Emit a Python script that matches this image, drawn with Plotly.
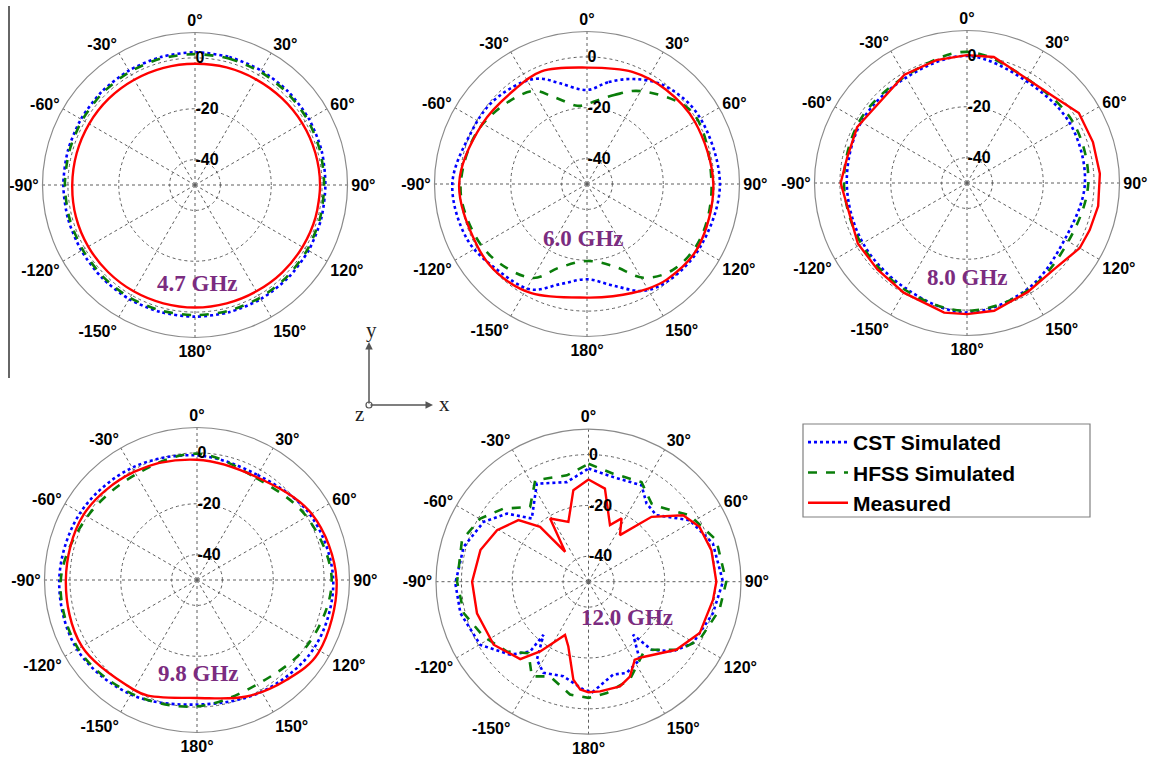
import plotly.graph_objects as go

# ---------------- data (dB values) ----------------
freq_labels = ["4.7 GHz", "6.0 GHz", "8.0 GHz", "9.8 GHz", "12.0 GHz"]
series_names = ["CST Simulated", "HFSS Simulated", "Measured"]

angle_tickvals = [0, 30, 60, 90, 120, 150, 180, 210, 240, 270, 300, 330]
angle_ticktext = ["0°", "30°", "60°", "90°", "120°", "150°", "180°",
                  "-150°", "-120°", "-90°", "-60°", "-30°"]
radial_tickvals = [-40, -20, 0]
radial_ticktext = ["-40", "-20", "0"]
radial_range = [-50, 10]

# 4.7 GHz
theta_47 = [0, 15, 30, 45, 60, 75, 90, 105, 120, 135, 150, 165, 180,
            195, 210, 225, 240, 255, 270, 285, 300, 315, 330, 345, 360]
cst_47 = [2.2, 2.1, 2.0, 1.9, 1.8, 1.6, 1.3, 1.4, 1.6, 1.7, 1.8, 1.8, 1.8,
          1.8, 1.8, 1.7, 1.6, 1.7, 1.8, 1.8, 1.8, 1.9, 2.0, 2.1, 2.2]
hfss_47 = [1.5, 1.5, 1.4, 1.3, 1.2, 1.0, 0.8, 0.9, 1.0, 1.1, 1.2, 1.2, 1.2,
           1.2, 1.2, 1.1, 1.0, 1.1, 1.2, 1.2, 1.2, 1.3, 1.4, 1.5, 1.5]
meas_47 = [-2.3, -2.1, -2.0, -1.7, -1.3, -1.0, -0.8, -0.9, -1.2, -1.4, -1.7, -1.8, -1.8,
           -1.8, -1.7, -1.6, -1.5, -1.5, -1.7, -1.8, -1.9, -2.0, -2.2, -2.3, -2.3]

# 6.0 GHz
theta_60_cst = [0, 12, 24, 38, 58, 90, 119, 139, 152, 165, 180, 195, 208, 226,
                245, 270, 294, 310, 327, 336, 345, 360]
cst_60 = [-13.0, -9.0, -4.8, -0.8, 1.5, 2.3, 1.0, -0.2, -2.4, -8.5, -12.5, -9.2, -3.0, -1.2,
          1.9, 3.0, -0.1, -0.6, -2.5, -4.6, -9.0, -13.0]
theta_60_hfss = [0, 17, 30, 56, 90, 116, 135, 149, 162, 180, 198, 210, 233, 253,
                 270, 298, 329, 339, 353, 360]
hfss_60 = [-18.5, -13.4, -7.8, 0.2, -1.0, -0.5, -2.2, -7.0, -16.0, -19.7, -15.5, -7.3, -2.7, -1.0,
           -0.3, -2.4, -7.4, -13.3, -19.0, -18.5]
theta_60_meas = [0, 22, 40, 60, 90, 120, 140, 150, 167, 180, 207, 225, 240, 270,
                 300, 322, 338, 360]
meas_60 = [-4.2, -2.4, -1.6, -1.0, -0.3, 0.3, -1.0, -2.4, -4.7, -5.3, -1.8, -0.3, -0.4, 0.3,
           -2.5, -3.2, -2.2, -4.2]

# 8.0 GHz
theta_80 = [0, 30, 60, 90, 120, 150, 180, 210, 240, 270, 300, 330, 360]
cst_80 = [0.0, -3.6, -3.2, -3.6, -5.6, -2.0, 1.0, -2.0, -2.7, -2.7, -2.0, -2.1, 0.0]
hfss_80 = [1.6, -2.7, -1.9, -2.3, -4.0, -1.5, 0.3, -1.4, -2.0, -1.6, -1.2, -1.5, 1.6]
theta_80_meas = [0, 12, 30, 45, 58, 72, 86, 100, 111, 120, 135, 151, 168, 180,
                 190, 210, 226, 241, 270, 282, 297, 330, 346, 360]
meas_80 = [0.3, 0.7, -2.7, -1.9, 1.9, 2.1, 2.4, 2.4, 1.7, 1.2, -1.8, -0.9, 1.4, 1.6,
           1.8, -0.2, -1.0, -0.9, -0.3, -1.8, -1.5, -0.8, -0.2, 0.3]

# 9.8 GHz
theta_98 = [0, 30, 60, 90, 120, 150, 180, 210, 240, 270, 300, 330, 360]
cst_98 = [-1.0, -2.3, 1.4, 3.6, 3.3, 0.8, -1.0, 2.0, 4.5, 4.2, 3.0, 1.0, -1.0]
hfss_98 = [-0.3, -3.6, -0.2, 3.0, 0.5, -2.6, -0.3, 1.6, 4.0, 3.6, -0.2, -2.0, -0.3]
theta_98_meas = [0, 30, 60, 90, 121, 138, 157, 180, 203, 210, 240, 270, 300, 330, 360]
meas_98 = [-2.7, -3.2, 2.1, 4.9, 5.7, 2.8, -0.2, -3.6, -0.6, -0.2, 2.3, 1.6, 1.5, -0.8, -2.7]

# 12.0 GHz
theta_12_cst = [0, 13.3, 28.8, 36.6, 45.6, 58.7, 72.9, 90, 104.2, 120.4, 129.5, 137.2,
                139.9, 146.7, 157.4, 165.1, 178, 182.7, 194.9, 206.3, 213.5, 220.3,
                219.9, 227, 239.7, 256.2, 269.3, 285.6, 299.7, 309.9, 318.1, 332.2,
                347.7, 360]
cst_12 = [-5.5, -7.7, -6.7, -11.7, -12.6, -3.4, 1.2, 2.9, 0.5, -2.3, -6.9, -13.5,
          -22.7, -13.3, -11.1, -12.2, -6.5, -7.5, -11.5, -10.0, -13.2, -22.6,
          -14.2, -7.9, -0.7, 1.9, 2.4, 1.0, -2.5, -8.2, -16.6, -6.4,
          -9.9, -5.5]
theta_12_hfss = [0, 12.9, 28, 38.9, 43.6, 56.7, 72, 90, 102.1, 117.6, 126.7, 138,
                 142.6, 157.1, 170.7, 180, 189.3, 202.1, 210.9, 220, 229.4, 242.4,
                 255.8, 270, 288.2, 300.3, 310.7, 322, 332.3, 348.5, 360]
hfss_12 = [-3.6, -6.4, -5.6, -10.5, -9.4, -2.4, 2.9, 4.2, 2.7, -0.7, -5.2, -14.0,
           -14.6, -8.2, -5.6, -4.3, -5.0, -9.8, -6.6, -13.3, -7.8, -3.4,
           0.6, 1.7, 2.4, -0.7, -5.9, -12.7, -4.9, -7.3, -3.6]
theta_12_meas = [0, 10, 20.8, 27.6, 34, 44.2, 54.9, 63.7, 75.6, 90, 98.3, 114.8,
                 127.8, 144, 149.3, 156.4, 163.3, 174, 180, 184.4, 188.8, 197.3,
                 203.8, 214.7, 221.4, 236.4, 254.2, 270, 286.3, 299.4, 311.3,
                 318.6, 322, 328.7, 341.4, 350.6, 360]
meas_12 = [-9.8, -12.8, -26.2, -21.9, -27.9, -14.4, -4.5, -1.3, -0.1, 0.3, -0.5, -1.8,
           -6.3, -13.4, -14.3, -9.3, -7.0, -6.6, -6.5, -7.5, -11.0, -23.3,
           -27.1, -16.6, -9.4, -5.2, -4.4, -4.2, -5.7, -8.7, -13.3,
           -21.2, -35.1, -20.9, -25.2, -13.5, -9.8]

panels = [
    [(theta_47, cst_47), (theta_47, hfss_47), (theta_47, meas_47)],
    [(theta_60_cst, cst_60), (theta_60_hfss, hfss_60), (theta_60_meas, meas_60)],
    [(theta_80, cst_80), (theta_80, hfss_80), (theta_80_meas, meas_80)],
    [(theta_98, cst_98), (theta_98, hfss_98), (theta_98_meas, meas_98)],
    [(theta_12_cst, cst_12), (theta_12_hfss, hfss_12), (theta_12_meas, meas_12)],
]

# ---------------- layout / style ----------------
W, H = 1150, 761
centers = [(195, 185), (587, 184), (967, 183), (197, 580), (588.5, 581.7)]
R = 152.5
label_offsets = [(2, 98), (-4, 54), (0, 94), (1, 93), (38, 36)]
line_shapes = [
    ["spline", "spline", "spline"],
    ["spline", "spline", "spline"],
    ["spline", "spline", "linear"],
    ["spline", "spline", "spline"],
    ["linear", "linear", "linear"],
]
smoothing = [0.8, 1.0, 1.0, 1.0, 1.0]

styles = [
    dict(color="#0000FF", dash="dot", width=2.6),
    dict(color="#0A7D0A", dash="dash", width=2.6),
    dict(color="#FF0000", dash="solid", width=2.4),
]

tick_font = dict(family="Liberation Sans, Arial, sans-serif", size=16, color="black", weight="bold")

fig = go.Figure()
layout_updates = {}
annotations = []
for i, panel in enumerate(panels):
    pname = "polar" if i == 0 else f"polar{i+1}"
    for j, (th, rv) in enumerate(panel):
        st = styles[j]
        fig.add_trace(go.Scatterpolar(
            theta=th, r=rv, mode="lines", subplot=pname,
            name=series_names[j], legendgroup=series_names[j],
            showlegend=(i == 0),
            line=dict(color=st["color"], dash=st["dash"], width=st["width"],
                      shape=line_shapes[i][j], smoothing=smoothing[i]),
        ))
    cx, cy = centers[i]
    layout_updates[pname] = dict(
        domain=dict(x=[(cx - R) / W, (cx + R) / W], y=[1 - (cy + R) / H, 1 - (cy - R) / H]),
        bgcolor="white",
        angularaxis=dict(
            rotation=90, direction="clockwise",
            tickmode="array", tickvals=angle_tickvals, ticktext=angle_ticktext,
            showline=True, linecolor="#8a8a8a", linewidth=1.2,
            showgrid=True, gridcolor="#5f5f5f", griddash="dot", gridwidth=1,
            ticks="", tickfont=tick_font,
        ),
        radialaxis=dict(
            range=radial_range, tickmode="array", tickvals=radial_tickvals,
            ticktext=radial_ticktext, angle=90, tickangle=90, side="clockwise",
            showline=False, showgrid=True, gridcolor="#5f5f5f", griddash="dot",
            gridwidth=1, ticks="", tickfont=tick_font,
        ),
    )
    ox, oy = label_offsets[i]
    annotations.append(dict(
        x=(cx + ox) / W, y=1 - (cy + oy) / H, xref="paper", yref="paper",
        text=freq_labels[i], showarrow=False, xanchor="center", yanchor="middle",
        font=dict(family="Liberation Serif, Times New Roman, serif", size=23,
                  color="#7B2C80", weight="bold"),
    ))

# coordinate-system icon
origin = (369, 405)
icon_font = dict(family="Liberation Serif, serif", size=21, color="#222")
annotations += [
    dict(x=origin[0] / W, y=1 - 342 / H, xref="paper", yref="paper", text="",
         showarrow=True, ax=0, ay=63, arrowhead=2, arrowsize=1, arrowwidth=1.5,
         arrowcolor="#555555"),
    dict(x=433 / W, y=1 - origin[1] / H, xref="paper", yref="paper", text="",
         showarrow=True, ax=-64, ay=0, arrowhead=2, arrowsize=1, arrowwidth=1.5,
         arrowcolor="#555555"),
    dict(x=371 / W, y=1 - 330 / H, xref="paper", yref="paper", text="y", showarrow=False,
         xanchor="center", yanchor="middle", font=icon_font),
    dict(x=444 / W, y=1 - 404 / H, xref="paper", yref="paper", text="x", showarrow=False,
         xanchor="center", yanchor="middle", font=icon_font),
    dict(x=359 / W, y=1 - 414 / H, xref="paper", yref="paper", text="z", showarrow=False,
         xanchor="center", yanchor="middle", font=icon_font),
]

shapes = [
    dict(type="line", xref="paper", yref="paper", x0=9 / W, x1=9 / W,
         y0=1 - 6 / H, y1=1 - 378 / H, line=dict(color="#333333", width=1.5)),
    dict(type="circle", xref="paper", yref="paper",
         x0=(origin[0] - 3) / W, x1=(origin[0] + 3) / W,
         y0=1 - (origin[1] + 3) / H, y1=1 - (origin[1] - 3) / H,
         line=dict(color="#555555", width=1.2), fillcolor="white"),
    # legend frame
    dict(type="rect", xref="paper", yref="paper", x0=803 / W, x1=1090 / W,
         y0=1 - 517 / H, y1=1 - 424 / H, line=dict(color="#808080", width=1.2),
         fillcolor="rgba(0,0,0,0)"),
]

fig.update_layout(
    width=W, height=H, margin=dict(l=0, r=0, t=0, b=0),
    paper_bgcolor="white", plot_bgcolor="white",
    showlegend=True,
    legend=dict(x=803 / W, y=1 - 422 / H, xanchor="left", yanchor="top",
                borderwidth=0, bgcolor="rgba(0,0,0,0)",
                font=dict(family="Liberation Sans, Arial, sans-serif", size=21,
                          color="black", weight="bold"),
                itemwidth=40, tracegroupgap=0),
    annotations=annotations, shapes=shapes,
    **layout_updates,
)

fig.write_html("out.html")
